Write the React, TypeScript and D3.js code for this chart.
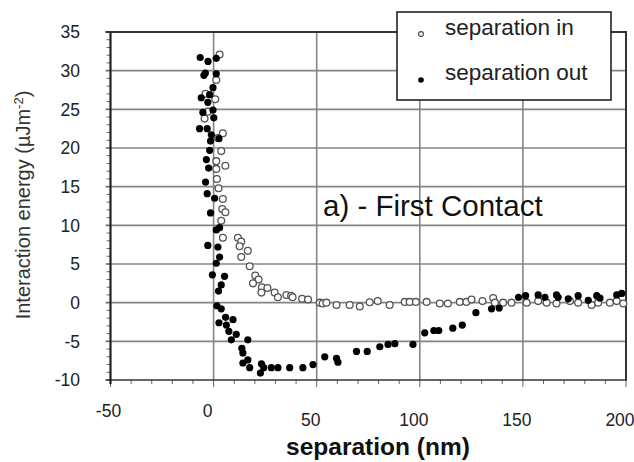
import React from "react";
import * as d3 from "d3";

const xTicks = [-50, 0, 50, 100, 150, 200];
const yTicks = [-10, -5, 0, 5, 10, 15, 20, 25, 30, 35];

// separation in (open circles): [separation nm, energy µJ/m²]
const sepInX = [2.9, 1.3, -3.9, 0.8, -2.8, -4.4, 4.5, 2.1, 3.7, 1.3, 5.7, 1.3, 1.6, 2.4, 4.5, 4.2, 5.7, 3.7, 4.5, 11.8, 13.4, 12.6, 16.6, 13.4, 17.5, 20.2, 21.8, 19.1, 23.4, 26.1, 23.2, 29.6, 31.2, 35.3, 37.6, 38.3, 42.9, 45.8, 51.5, 52.9, 54.7, 59.6, 66.0, 70.9, 75.7, 79.6, 85.4, 92.7, 95.1, 98.1, 103.3, 109.7, 113.6, 119.4, 122.6, 125.1, 130.4, 135.6, 136.4, 140.4, 144.5, 151.8, 157.4, 161.5, 166.3, 172.8, 176.8, 183.3, 186.5, 192.2, 195.5, 198.7];
const sepInY = [32.1, 28.8, 27.0, 26.3, 24.7, 23.8, 21.9, 21.3, 19.6, 18.3, 17.7, 17.3, 16.0, 14.8, 13.4, 12.1, 11.7, 10.6, 8.4, 8.4, 7.9, 7.3, 6.7, 5.9, 4.7, 3.5, 3.0, 2.5, 2.0, 1.9, 1.3, 1.3, 0.7, 1.0, 0.9, 0.7, 0.5, 0.4, 0.0, -0.1, 0.0, -0.3, -0.3, -0.5, 0.05, 0.2, -0.3, 0.1, 0.1, 0.1, 0.1, -0.1, -0.1, 0.1, 0.1, 0.4, 0.2, 0.6, 0.0, 0.0, 0.0, 0.0, 0.2, 0.0, -0.1, 0.2, 0.0, -0.3, 0.0, 0.0, 0.2, -0.1];

// separation out (filled circles)
const sepOutX = [-6.5, -2.7, 1.3, -4.0, -4.7, 1.3, -0.3, -6.0, -1.9, -2.8, -5.2, -0.3, 0.1, -6.8, -3.1, -1.1, 2.6, -1.5, -1.9, -3.5, -2.4, -3.9, -3.1, 0.5, -1.5, 1.3, 2.9, -2.8, 2.1, 2.9, 1.3, -0.6, 5.3, 3.7, 2.4, 1.6, 3.7, 5.8, 9.4, 2.6, 6.2, 7.4, 11.0, 8.6, 16.6, 13.7, 14.2, 16.6, 14.2, 17.5, 23.2, 22.7, 24.3, 28.0, 31.2, 36.9, 43.3, 48.2, 53.9, 59.6, 60.3, 69.3, 74.5, 80.6, 84.6, 87.9, 96.7, 102.4, 106.8, 109.2, 116.0, 120.6, 127.2, 134.8, 138.5, 147.9, 151.3, 157.4, 160.7, 166.3, 167.1, 172.0, 176.8, 181.7, 185.8, 187.4, 195.5, 197.9];
const sepOutY = [31.7, 31.2, 31.6, 29.7, 29.4, 29.6, 27.8, 26.5, 26.9, 25.9, 24.6, 24.9, 23.9, 22.5, 22.5, 21.7, 21.2, 20.9, 19.7, 18.5, 17.4, 15.6, 14.1, 13.5, 11.6, 9.4, 9.7, 7.4, 7.2, 5.9, 5.1, 3.6, 3.4, 2.3, 1.5, -0.4, -0.8, -1.9, -2.2, -2.6, -2.9, -3.7, -4.1, -4.8, -4.8, -5.9, -6.5, -7.4, -7.8, -8.4, -7.9, -9.1, -8.4, -8.4, -8.4, -8.4, -8.4, -8.0, -7.0, -7.2, -7.7, -6.3, -6.3, -5.7, -5.4, -5.3, -5.4, -3.9, -3.6, -3.6, -3.3, -2.9, -1.3, -0.8, -0.7, 0.7, 0.9, 1.0, 0.7, 1.0, 0.7, 0.5, 0.9, 0.3, 0.9, 0.6, 1.0, 1.2];

const seriesNames = ["separation in", "separation out"];

const FONT = "'Liberation Sans', Arial, sans-serif";

export default function App() {
  const x = d3.scaleLinear().domain([-50, 200]).range([110.5, 626]);
  const y = d3.scaleLinear().domain([-10, 35]).range([380, 32]);

  const yMinor = d3.range(-10, 35.01, 1);
  const xMinor = d3.range(-50, 200.01, 10);
  const gridX = [0, 50, 100, 150];
  const gridY = [-5, 0, 5, 10, 15, 20, 25, 30];

  return (
    <svg width={634} height={462} style={{ position: "absolute", left: 0, top: 0, background: "#fff" }}>
      <rect x={0} y={0} width={634} height={462} fill="#fff" />
      {/* grid */}
      {gridX.map((v) => (
        <line key={"gx" + v} x1={x(v)} x2={x(v)} y1={y(35)} y2={y(-10)} stroke="#858585" strokeWidth={1.6} />
      ))}
      {gridY.map((v) => (
        <line key={"gy" + v} x1={x(-50) - 5} x2={x(200)} y1={y(v)} y2={y(v)} stroke="#858585" strokeWidth={1.6} />
      ))}
      {/* minor ticks */}
      {yMinor.map((v) => (
        <line key={"ym" + v} x1={x(-50) - 4} x2={x(-50)} y1={y(v)} y2={y(v)} stroke="#666" strokeWidth={1} />
      ))}
      {xMinor.map((v) => (
        <line key={"xm" + v} x1={x(v)} x2={x(v)} y1={y(-10)} y2={y(-10) + (v % 50 === 0 ? 7 : 4)} stroke="#666" strokeWidth={1} />
      ))}
      {/* frame */}
      <line x1={x(-50) - 5} x2={x(200) + 1} y1={y(35)} y2={y(35)} stroke="#333" strokeWidth={2} />
      <line x1={x(-50) - 5} x2={x(200) + 1} y1={y(-10)} y2={y(-10)} stroke="#333" strokeWidth={1.6} />
      <line x1={x(-50)} x2={x(-50)} y1={y(35)} y2={y(-10) + 4} stroke="#222" strokeWidth={2.2} />
      <line x1={x(200)} x2={x(200)} y1={y(35)} y2={y(-10)} stroke="#333" strokeWidth={2} />

      {/* y tick labels */}
      {yTicks.map((v) => (
        <text key={"yl" + v} x={80} y={y(v)} dy="0.36em" textAnchor="end" fontFamily={FONT} fontSize={17.5} fill="#222">
          {v}
        </text>
      ))}
      {/* x tick labels */}
      {xTicks.map((v, i) => (
        <text key={"xl" + v} x={x(v) - (i === 0 ? 2 : 6)} y={i < 2 ? 417 : 426} textAnchor="middle" fontFamily={FONT} fontSize={17.5} fill="#222">
          {v}
        </text>
      ))}

      {/* axis titles */}
      <text transform="translate(30,205) rotate(-90)" textAnchor="middle" fontFamily={FONT} fontSize={20} fill="#333">
        Interaction energy (µJm<tspan dy={-7} fontSize={13}>-2</tspan><tspan dy={7}>)</tspan>
      </text>
      <text x={378} y={455} textAnchor="middle" fontFamily={FONT} fontSize={24.5} fontWeight="bold" fill="#111">
        separation (nm)
      </text>

      {/* annotation */}
      <text x={323} y={216} fontFamily={FONT} fontSize={29.5} fill="#111">
        a) - First Contact
      </text>

      {/* data */}
      {sepInX.map((v, i) => (
        <circle key={"in" + i} cx={x(v)} cy={y(sepInY[i])} r={3.4} fill="#fff" stroke="#555" strokeWidth={1.3} />
      ))}
      {sepOutX.map((v, i) => (
        <circle key={"out" + i} cx={x(v)} cy={y(sepOutY[i])} r={3.6} fill="#000" />
      ))}

      {/* legend */}
      <rect x={397} y={12} width={214} height={88} fill="#fff" stroke="#222" strokeWidth={1.6} />
      <circle cx={421} cy={34} r={2.4} fill="#fff" stroke="#444" strokeWidth={1.1} />
      <circle cx={421} cy={80} r={2.8} fill="#000" />
      <text x={445} y={35} fontFamily={FONT} fontSize={22.5} fill="#222">
        {seriesNames[0]}
      </text>
      <text x={445} y={80} fontFamily={FONT} fontSize={22.5} fill="#222">
        {seriesNames[1]}
      </text>
    </svg>
  );
}
